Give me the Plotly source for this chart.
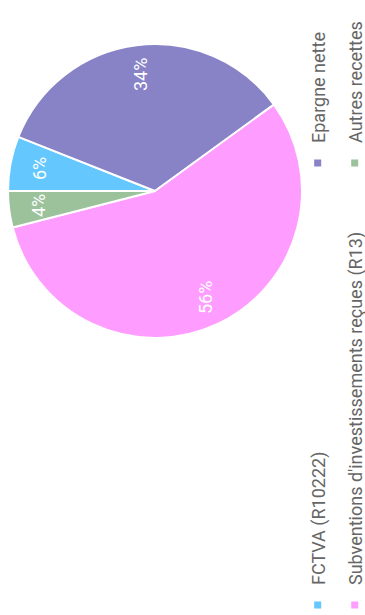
import math
import plotly.graph_objects as go

# Funding sources of the investment section, listed in drawing order (clockwise from 12 o'clock)
labels = ["FCTVA (R10222)", "Epargne nette",
          "Subventions d'investissements reçues (R13)", "Autres recettes"]
values = [6, 34, 56, 4]
colors = ["#64C8FF", "#8783C6", "#FF9CFF", "#9CC29C"]

W, H = 615, 365            # canvas before the page rotates it to portrait
CX, CY, R = 424, 155, 147  # pie centre / radius in px (top-left origin)
LABEL_R = 0.8              # percentage labels sit at this fraction of the radius

FONT = "Roboto"

fig = go.Figure()

fig.add_trace(go.Pie(
    labels=labels,
    values=values,
    sort=False,
    direction="clockwise",
    rotation=0,
    marker=dict(colors=colors, line=dict(color="white", width=2)),
    textinfo="none",
    showlegend=False,
    hoverinfo="label+percent",
    domain=dict(x=[(CX - R) / W, (CX + R) / W],
                y=[(H - CY - R) / H, (H - CY + R) / H]),
))

# Percentage labels on each slice, placed along the slice bisector
total = sum(values)
cum = 0.0
for v in values:
    frac = v / total
    mid = (cum + frac / 2) * 2 * math.pi
    cum += frac
    px = CX + LABEL_R * R * math.sin(mid)
    py = CY - LABEL_R * R * math.cos(mid)
    fig.add_annotation(
        x=px / W, y=1 - py / H, xref="paper", yref="paper",
        text=f"{round(frac * 100)}%", showarrow=False,
        xanchor="center", yanchor="middle",
        font=dict(family=FONT, size=18, color="white"),
    )

# Legend: one entry per box so the 2x2 grid can be placed freely
legend_style = dict(
    orientation="h", xanchor="left", yanchor="middle",
    font=dict(family=FONT, size=18, color="#666666"),
    bgcolor="rgba(0,0,0,0)", borderwidth=0, itemsizing="trace",
)
col_x = [-10 / W, 432 / W]
row_y = [(H - 318) / H, (H - 355) / H]
legend_layout = {}
for i, (lab, col) in enumerate(zip(labels, colors)):
    key = "legend" if i == 0 else f"legend{i + 1}"
    fig.add_trace(go.Scatter(
        x=[None], y=[None], mode="markers", name=lab,
        marker=dict(symbol="square", size=7, color=col),
        legend=key, showlegend=True, hoverinfo="skip",
    ))
    legend_layout[key] = dict(legend_style, x=col_x[i % 2], y=row_y[i // 2])

fig.update_layout(
    width=W, height=H,
    margin=dict(l=0, r=0, t=0, b=0, autoexpand=False),
    paper_bgcolor="white", plot_bgcolor="white",
    xaxis=dict(visible=False), yaxis=dict(visible=False),
    font=dict(family=FONT),
    **legend_layout,
)

# Turn the landscape figure a quarter turn counter-clockwise to fill the portrait page
rotate_js = """
var gd = document.getElementById('{plot_id}');
document.documentElement.style.overflow = 'hidden';
document.body.style.overflow = 'hidden';
document.body.style.margin = '0';
gd.style.position = 'absolute';
gd.style.left = '0px';
gd.style.top = '0px';
gd.style.transformOrigin = '0 0';
gd.style.transform = 'translate(0px, 615px) rotate(-90deg)';
"""

fig.write_html("out.html", post_script=rotate_js, config=dict(displayModeBar=False))
